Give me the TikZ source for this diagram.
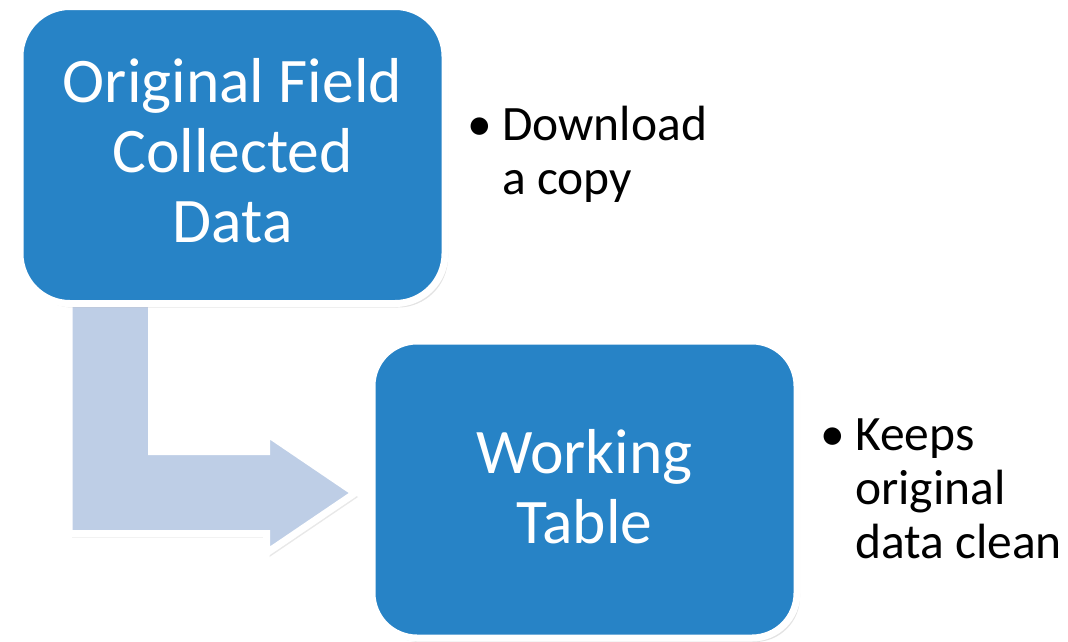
\documentclass[tikz,border=0pt]{standalone}
\usepackage{fontspec}
\setmainfont{Carlito}
\usetikzlibrary{shadows}
\definecolor{boxblue}{RGB}{39,131,198}
\definecolor{arrowblue}{RGB}{190,206,230}
\tikzset{
  bluebox/.style={draw=white, line width=7pt, fill=boxblue, rounded corners=50pt,
    minimum width=425pt, minimum height=297pt, inner sep=0pt,
    drop shadow={opacity=0.22, shadow xshift=3pt, shadow yshift=-4pt}},
  boxtext/.style={text=white, align=center, inner sep=0pt, font=\fontsize{63.5}{70}\selectfont},
  bullettext/.style={anchor=base west, inner sep=0pt, text=black, font=\fontsize{49.5}{54}\selectfont},
  bentarrow/.style={draw=white, line width=7pt, fill=arrowblue, line join=miter,
    drop shadow={opacity=0.18, shadow xshift=3pt, shadow yshift=-4pt}}
}
\begin{document}
\begin{tikzpicture}[x=1pt, y=-1pt]
\useasboundingbox (0,0) rectangle (1068,641);
% bent arrow
\coordinate (a1) at (69,290);
\coordinate (a2) at (69,533.5);
\coordinate (a3) at (266.5,533.5);
\coordinate (a4) at (266.5,553);
\coordinate (tip) at (355,493);
\coordinate (a6) at (266.5,433);
\coordinate (a7) at (266.5,451.5);
\coordinate (a8) at (151.5,451.5);
\coordinate (a9) at (151.5,290);
\draw[bentarrow] (a1) -- (a2) -- (a3) -- (a4) -- (tip) -- (a6) -- (a7) -- (a8) -- (a9) -- cycle;
% boxes
\node[bluebox] (orig) at (232.5,155) {};
\node[boxtext] (origtext) at (232.5,151) {Original Field\\Collected\\Data};
\node[bluebox, rounded corners=45pt] (work) at (584.5,489.5) {};
\node[boxtext] (worktext) at (584.5,487) {Working\\Table};
% bullets
\node[bullettext] (b1) at (467,140) {•};
\node[bullettext] (t1a) at (502,140) {Download};
\node[bullettext] (t1b) at (502,194) {a copy};
\node[bullettext] (b2) at (820,450) {•};
\node[bullettext] (t2a) at (855,450) {Keeps};
\node[bullettext] (t2b) at (855,504) {original};
\node[bullettext] (t2c) at (855,558) {data clean};
\end{tikzpicture}
\end{document}
